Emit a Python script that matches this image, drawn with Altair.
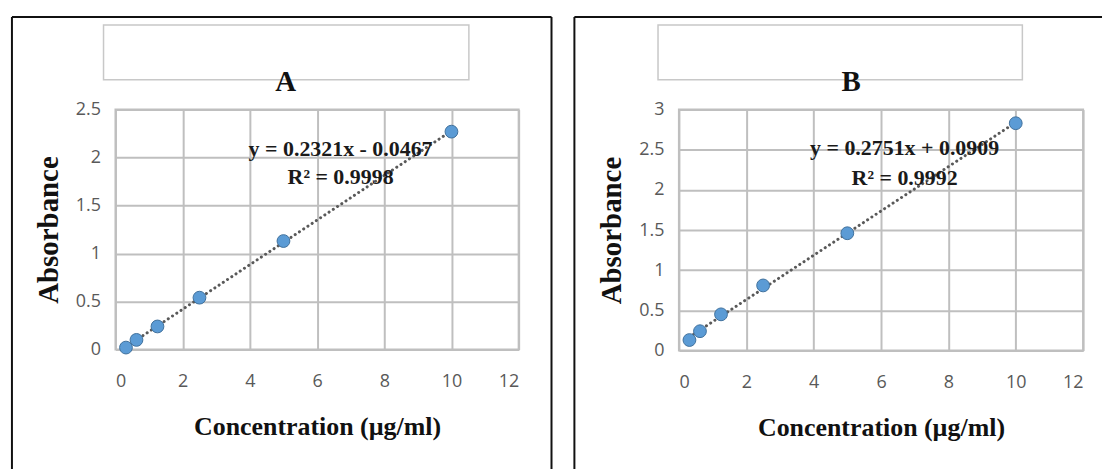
import altair as alt
import pandas as pd

# Standard concentrations (µg/ml) and measured absorbances for the two assays
conc = [0.3125, 0.625, 1.25, 2.5, 5, 10]
abs_a = [0.02, 0.10, 0.24, 0.54, 1.13, 2.27]
abs_b = [0.13, 0.24, 0.45, 0.81, 1.46, 2.83]

x_ticks = [0, 2, 4, 6, 8, 10, 12]
y_ticks_a = [0, 0.5, 1, 1.5, 2, 2.5]
y_ticks_b = [0, 0.5, 1, 1.5, 2, 2.5, 3]

eq_a = ["y = 0.2321x - 0.0467", "R² = 0.9998"]
eq_b = ["y = 0.2751x + 0.0909", "R² = 0.9992"]

SERIF = "Liberation Serif"
SANS = "Open Sans"
GRID = "#bfbfbf"
one_row = pd.DataFrame({"k": [0]})


def panel(letter, absorb, y_ticks, eq, eq_x, eq_y, w, h, box, title_x, frame):
    df = pd.DataFrame({"conc": conc, "abs": absorb})
    xe = alt.X(
        "conc:Q",
        scale=alt.Scale(domain=[0, 12], nice=False, zero=False),
        axis=alt.Axis(values=x_ticks, title="Concentration (µg/ml)",
                      labelExpr="'' + datum.value"),
    )
    ye = alt.Y(
        "abs:Q",
        scale=alt.Scale(domain=[0, y_ticks[-1]], nice=False),
        axis=alt.Axis(values=y_ticks, title="Absorbance",
                      labelExpr="'' + datum.value"),
    )
    base = alt.Chart(df)

    trend = (
        base.transform_regression("conc", "abs")
        .mark_line(color="#595959", strokeWidth=3, strokeDash=[0.1, 5], strokeCap="round")
        .encode(x=xe, y=ye)
    )
    pts = base.mark_point(
        filled=True, shape="circle", size=165, fill="#5b9bd5",
        stroke="#41719c", strokeWidth=1, opacity=1,
    ).encode(x=xe, y=ye)

    eq_df = pd.DataFrame({"conc": [eq_x, eq_x], "abs": eq_y, "t": eq})
    eq_text = alt.Chart(eq_df).mark_text(
        font=SERIF, fontWeight="bold", fontSize=22, color="#1a1a1a", baseline="middle"
    ).encode(x=xe, y=ye, text="t:N")

    # blank legend box above the plot
    bx0, bx1, by0, by1 = box
    legend_box = alt.Chart(one_row).mark_rect(
        fill="white", stroke="#c8c8c8", strokeWidth=1.5
    ).encode(x=alt.value(bx0), x2=alt.value(bx1), y=alt.value(by0), y2=alt.value(by1))

    title = alt.Chart(one_row).mark_text(
        font=SERIF, fontWeight="bold", fontSize=29, color="#111111", baseline="middle"
    ).encode(x=alt.value(title_x), y=alt.value(-28), text=alt.value(letter))

    # panel frame (left, top and optional right edge)
    fl, fr, ft, fb, right_edge = frame
    rules = [
        alt.Chart(one_row).mark_rule(color="#111111", strokeWidth=2).encode(
            x=alt.value(fl), y=alt.value(ft), y2=alt.value(fb)),
        alt.Chart(one_row).mark_rule(color="#111111", strokeWidth=2).encode(
            x=alt.value(fl), x2=alt.value(fr), y=alt.value(ft)),
    ]
    if right_edge:
        rules.append(
            alt.Chart(one_row).mark_rule(color="#111111", strokeWidth=2).encode(
                x=alt.value(fr), y=alt.value(ft), y2=alt.value(fb))
        )

    return alt.layer(*rules, legend_box, title, trend, pts, eq_text).properties(
        width=w, height=h
    )


chart_a = panel("A", abs_a, y_ticks_a, eq_a, 6.7, [2.085, 1.795], 405, 241,
                (-12, 355, -85, -30), 171, (-104, 438, -93, 361, True))
chart_b = panel("B", abs_b, y_ticks_b, eq_b, 6.7, [2.52, 2.15], 406, 242,
                (-21, 345, -85, -30), 173, (-105, 425, -93, 361, False))

chart = (
    alt.hconcat(chart_a, chart_b, spacing=19)
    .properties(padding={"left": 10, "top": 14, "right": 0, "bottom": 0},
                background="white")
    .configure_view(stroke=GRID, strokeWidth=2)
    .configure_axis(
        grid=True, gridColor=GRID, gridWidth=2, domain=False, ticks=False,
        labelFont=SANS, labelFontSize=18, labelColor="#595959",
        titleFont=SERIF, titleFontWeight="bold", titleColor="#111111",
    )
    .configure_axisX(labelPadding=23, titleFontSize=26, titlePadding=23)
    .configure_axisY(labelPadding=15, titleFontSize=29, titlePadding=12)
)

chart.save("out.html", embed_options={"renderer": "svg", "actions": False})
